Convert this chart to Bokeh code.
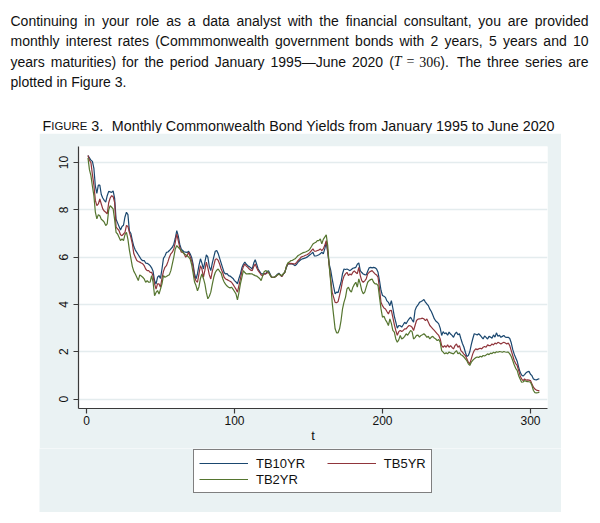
from bokeh.plotting import figure
from bokeh.models import Range1d, FixedTicker, Legend, LegendItem, Spacer
from bokeh.layouts import column, row
from bokeh.core.properties import value
from bokeh.embed import file_html
from bokeh.resources import INLINE

# ---------------- data (monthly yields, Jan 1995 .. Jun 2020, T = 306) ----------------
tb10yr = [
    10.30, 10.20, 10.10, 10.05, 9.75, 9.00, 8.70, 9.05, 9.05, 8.65, 8.50, 8.40,
    8.33, 8.60, 8.78, 8.76, 8.74, 8.80, 8.50, 7.60, 7.45, 7.30, 7.15, 7.30,
    7.35, 7.70, 7.90, 7.80, 7.10, 7.00, 6.70, 6.45, 6.30, 6.20, 6.10, 6.00,
    5.90, 5.85, 5.86, 5.75, 5.74, 5.70, 5.64, 5.55, 5.40, 5.00, 4.87, 5.15,
    5.22, 5.10, 5.50, 5.95, 6.05, 6.20, 6.22, 6.28, 6.35, 6.42, 6.55, 6.80,
    7.12, 6.90, 6.55, 6.35, 6.28, 6.22, 6.21, 6.20, 6.25, 6.14, 6.00, 5.72,
    5.30, 5.08, 5.30, 5.65, 5.93, 5.75, 5.50, 5.80, 6.10, 6.00, 5.60, 5.43,
    5.75, 6.00, 6.25, 6.28, 6.15, 5.95, 5.75, 5.55, 5.35, 5.29, 5.30, 5.22,
    5.20, 5.15, 5.10, 5.01, 4.95, 4.87, 5.10, 5.29, 5.55, 5.70, 5.79, 5.70,
    5.64, 5.60, 5.55, 5.50, 5.75, 5.89, 5.70, 5.50, 5.40, 5.30, 5.29, 5.30,
    5.29, 5.38, 5.43, 5.30, 5.16, 5.15, 5.15, 5.20, 5.28, 5.32, 5.25, 5.18,
    5.28, 5.36, 5.55, 5.70, 5.71, 5.72, 5.71, 5.68, 5.64, 5.70, 5.79, 5.85,
    5.90, 5.93, 5.95, 5.97, 6.00, 6.05, 6.10, 6.15, 6.21, 6.05, 6.05, 6.07,
    6.10, 6.14, 6.21, 6.14, 6.35, 6.63, 6.20, 5.70, 5.45, 5.08, 4.75, 4.45,
    4.52, 4.50, 4.73, 4.94, 5.30, 5.50, 5.48, 5.50, 5.47, 5.43, 5.48, 5.53,
    5.55, 5.57, 5.70, 5.76, 5.43, 5.35, 5.29, 5.26, 5.25, 5.40, 5.55, 5.57,
    5.55, 5.57, 5.55, 5.50, 5.36, 5.00, 4.60, 4.38, 4.35, 4.30, 4.15, 4.09,
    3.95, 4.16, 3.85, 3.50, 3.25, 3.00, 3.11, 3.10, 3.04, 3.14, 3.25, 3.18,
    3.30, 3.39, 3.46, 3.35, 3.25, 3.75, 3.90, 3.98, 4.09, 4.12, 4.16, 4.21,
    4.10, 4.02, 3.95, 3.80, 3.70, 3.55, 3.40, 3.30, 3.25, 3.18, 3.00, 2.69,
    2.85, 2.76, 2.80, 2.70, 2.83, 2.75, 2.69, 2.61, 2.76, 2.83, 2.72, 2.76,
    2.55, 2.35, 2.20, 1.98, 1.80, 1.84, 2.00, 2.30, 2.55, 2.76, 2.74, 2.71,
    2.76, 2.70, 2.62, 2.54, 2.67, 2.61, 2.54, 2.65, 2.62, 2.57, 2.71, 2.62,
    2.80, 2.66, 2.70, 2.61, 2.65, 2.69, 2.62, 2.61, 2.61, 2.56, 2.38, 2.10,
    1.90, 1.75, 1.60, 1.35, 1.14, 1.02, 0.97, 1.03, 1.11, 1.15, 1.17, 1.05,
    0.99, 0.85, 0.82, 0.81, 0.84, 0.86,
]

tb5yr = [
    10.30, 10.10, 10.00, 9.50, 9.05, 8.40, 8.18, 8.25, 8.46, 8.25, 8.04, 7.95,
    7.90, 7.83, 8.30, 8.50, 8.60, 8.56, 8.32, 7.27, 7.20, 7.12, 6.95, 6.91,
    6.98, 7.05, 7.34, 7.30, 7.05, 6.84, 6.56, 6.14, 6.00, 5.86, 5.82, 5.79,
    5.75, 5.72, 5.64, 5.50, 5.43, 5.43, 5.36, 5.36, 5.20, 4.87, 4.65, 4.87,
    4.87, 4.73, 5.10, 5.40, 5.57, 5.64, 5.80, 6.00, 6.14, 6.21, 6.35, 6.63,
    6.98, 6.70, 6.42, 6.21, 6.21, 6.14, 6.00, 6.07, 6.21, 6.03, 5.86, 5.60,
    5.15, 5.00, 4.94, 5.29, 5.64, 5.50, 5.15, 5.45, 5.79, 5.55, 5.25, 5.08,
    5.40, 5.64, 5.90, 5.93, 5.86, 5.70, 5.50, 5.35, 5.15, 5.08, 5.05, 5.01,
    4.98, 4.94, 4.85, 4.75, 4.65, 4.52, 4.80, 5.08, 5.40, 5.60, 5.71, 5.62,
    5.57, 5.50, 5.45, 5.43, 5.60, 5.71, 5.55, 5.43, 5.35, 5.25, 5.22, 5.29,
    5.29, 5.33, 5.36, 5.25, 5.15, 5.15, 5.15, 5.18, 5.25, 5.29, 5.24, 5.18,
    5.28, 5.36, 5.58, 5.72, 5.73, 5.74, 5.73, 5.72, 5.71, 5.78, 5.86, 5.92,
    6.00, 6.03, 6.05, 6.08, 6.10, 6.14, 6.20, 6.28, 6.35, 6.25, 6.25, 6.28,
    6.30, 6.35, 6.28, 6.35, 6.50, 6.70, 6.28, 5.64, 5.08, 4.52, 4.30, 4.09,
    4.07, 4.12, 4.38, 4.66, 5.00, 5.20, 5.29, 5.36, 5.22, 5.29, 5.25, 5.36,
    5.42, 5.35, 5.30, 5.57, 5.22, 5.01, 4.94, 5.00, 5.08, 5.29, 5.36, 5.40,
    5.43, 5.36, 5.29, 5.25, 5.15, 4.66, 4.09, 3.95, 3.85, 3.81, 3.70, 3.60,
    3.74, 3.75, 3.45, 3.15, 2.90, 2.70, 2.85, 2.90, 2.86, 2.90, 2.97, 2.97,
    3.05, 3.11, 3.09, 3.04, 2.90, 3.11, 3.32, 3.38, 3.39, 3.40, 3.42, 3.39,
    3.32, 3.39, 3.25, 3.11, 3.04, 2.97, 2.90, 2.83, 2.76, 2.69, 2.54, 2.26,
    2.19, 2.26, 2.19, 2.29, 2.19, 2.26, 2.18, 2.12, 2.26, 2.33, 2.19, 2.26,
    2.05, 1.98, 1.90, 1.84, 1.70, 1.56, 1.49, 1.70, 1.91, 2.05, 2.12, 2.09,
    2.12, 2.15, 2.12, 2.19, 2.22, 2.19, 2.29, 2.26, 2.26, 2.33, 2.29, 2.37,
    2.33, 2.40, 2.37, 2.33, 2.37, 2.40, 2.37, 2.33, 2.37, 2.26, 2.05, 1.84,
    1.63, 1.50, 1.42, 1.21, 0.99, 0.85, 0.78, 0.85, 0.80, 0.81, 0.80, 0.78,
    0.64, 0.50, 0.42, 0.38, 0.36, 0.36,
]

tb2yr = [
    10.20, 9.70, 9.45, 9.00, 8.60, 7.90, 7.62, 7.80, 7.75, 7.60, 7.55, 7.48,
    7.34, 7.41, 8.00, 8.18, 8.11, 8.04, 7.60, 7.05, 6.98, 6.84, 6.70, 6.77,
    6.70, 6.95, 7.05, 6.75, 6.30, 5.95, 5.60, 5.40, 5.29, 5.15, 5.01, 5.25,
    5.20, 5.15, 5.08, 4.94, 5.01, 4.94, 4.94, 5.22, 4.94, 4.37, 4.51, 4.59,
    4.44, 4.65, 4.87, 5.22, 5.15, 5.18, 5.22, 5.26, 5.43, 5.72, 6.00, 6.35,
    6.49, 6.42, 6.35, 6.28, 6.21, 6.14, 6.10, 6.07, 6.00, 5.93, 5.70, 5.35,
    4.95, 4.80, 4.58, 4.75, 5.10, 5.29, 5.10, 4.87, 4.50, 4.24, 4.35, 4.52,
    4.85, 5.15, 5.35, 5.45, 5.50, 5.40, 5.32, 5.10, 4.95, 4.85, 4.78, 4.73,
    4.70, 4.73, 4.65, 4.55, 4.45, 4.19, 4.50, 4.87, 5.15, 5.43, 5.35, 5.29,
    5.29, 5.30, 5.29, 5.29, 5.25, 5.22, 5.20, 5.15, 5.10, 5.01, 5.20, 5.38,
    5.43, 5.40, 5.36, 5.25, 5.15, 5.15, 5.15, 5.20, 5.25, 5.29, 5.25, 5.22,
    5.30, 5.36, 5.60, 5.75, 5.79, 5.85, 5.86, 5.90, 5.93, 6.00, 6.07, 6.10,
    6.14, 6.18, 6.20, 6.22, 6.25, 6.28, 6.35, 6.45, 6.56, 6.60, 6.63, 6.70,
    6.70, 6.77, 6.56, 6.75, 6.85, 6.94, 6.49, 5.64, 4.94, 4.09, 3.53, 2.97,
    2.80, 2.80, 2.97, 3.32, 3.81, 4.10, 4.30, 4.66, 4.73, 4.59, 4.52, 4.73,
    4.85, 4.94, 4.73, 5.08, 4.87, 4.59, 4.45, 4.52, 4.73, 4.94, 5.01, 5.05,
    5.08, 4.94, 4.87, 4.87, 4.80, 4.30, 3.81, 3.46, 3.50, 3.35, 3.25, 3.11,
    3.39, 3.20, 2.90, 2.83, 2.54, 2.40, 2.50, 2.69, 2.54, 2.58, 2.65, 2.76,
    2.70, 2.80, 2.90, 2.85, 2.54, 2.60, 2.69, 2.70, 2.62, 2.69, 2.72, 2.76,
    2.70, 2.61, 2.65, 2.54, 2.62, 2.65, 2.58, 2.54, 2.47, 2.52, 2.40, 2.05,
    1.98, 1.91, 1.96, 1.91, 1.99, 1.95, 1.93, 1.91, 1.98, 2.05, 1.92, 1.96,
    1.87, 1.84, 1.78, 1.70, 1.62, 1.49, 1.42, 1.56, 1.64, 1.70, 1.75, 1.78,
    1.76, 1.81, 1.78, 1.84, 1.82, 1.86, 1.91, 1.88, 1.94, 1.92, 1.98, 1.95,
    2.00, 1.98, 2.01, 2.00, 1.98, 2.01, 1.99, 1.98, 1.98, 1.91, 1.80, 1.63,
    1.45, 1.30, 1.21, 0.99, 0.85, 0.71, 0.72, 0.78, 0.75, 0.74, 0.73, 0.71,
    0.57, 0.36, 0.27, 0.26, 0.27, 0.29,
]

t = list(range(1, len(tb10yr) + 1))

series_names = ["TB10YR", "TB5YR", "TB2YR"]
series_colors = ["#1a476f", "#90353b", "#55752f"]
x_ticks = [0, 100, 200, 300]
y_ticks = [0, 2, 4, 6, 8, 10]

GRAPH_BG = "#eaf2f3"
SANS = "Liberation Sans"
SERIF = "Liberation Serif"

# ---------------- text block (paragraph + caption), page pixel coordinates ----------------
ARIAL = {' ': 278, ',': 278, '.': 278, '(': 333, ')': 333, '-': 333, '\u2014': 1000,
         'a': 556, 'b': 556, 'c': 500, 'd': 556, 'e': 556, 'f': 278, 'g': 556, 'h': 556,
         'i': 222, 'j': 222, 'k': 500, 'l': 222, 'm': 833, 'n': 556, 'o': 556, 'p': 556,
         'q': 556, 'r': 333, 's': 500, 't': 278, 'u': 556, 'v': 500, 'w': 722, 'x': 500,
         'y': 500, 'z': 500,
         'A': 667, 'B': 667, 'C': 722, 'D': 722, 'E': 667, 'F': 611, 'G': 778, 'H': 722,
         'I': 278, 'J': 500, 'K': 667, 'L': 556, 'M': 833, 'N': 722, 'O': 778, 'P': 667,
         'Q': 778, 'R': 722, 'S': 667, 'T': 611, 'U': 722, 'V': 667, 'W': 944, 'X': 667,
         'Y': 667, 'Z': 611}
FS = 14.0


def wsans(s, size=FS):
    return sum(ARIAL.get(c, 556) for c in s) / 1000.0 * size


def word(s):
    return [(s, SANS, "normal", FS, wsans(s))]


math_token = [("(", SANS, "normal", FS, wsans("(")),
              ("T", SERIF, "italic", FS, 0.60 * FS),
              (None, None, None, None, 0.30 * FS),
              ("=", SERIF, "normal", FS, 0.62 * FS),
              (None, None, None, None, 0.30 * FS),
              ("306", SERIF, "normal", FS, 1.5 * FS),
              (").", SANS, "normal", FS, wsans(").") + 0.15 * FS)]

lines = [
    ("Continuing in your role as a data analyst with the financial consultant, you are provided", True),
    ("monthly interest rates (Commmonwealth government bonds with 2 years, 5 years and 10", True),
    ("years maturities) for the period January 1995\u2014June 2020 (T = 306). The three series are", True),
    ("plotted in Figure 3.", False),
]
line_y = [20, 40.5, 61, 81.5]
X0, X1 = 10, 588

segs = {}


def put(seg, x, y):
    txt, font, style, size, w = seg
    if txt is None:
        return
    d = segs.setdefault((font, style, size), {"x": [], "y": [], "text": []})
    d["x"].append(x)
    d["y"].append(y)
    d["text"].append(txt)


for (ln, just), yy in zip(lines, line_y):
    toks = []
    for wd in ln.split(" "):
        if wd == "(T":
            toks.append(math_token)
        elif wd in ("=", "306)."):
            continue
        else:
            toks.append(word(wd))
    widths = [sum(s[4] for s in tk) for tk in toks]
    gap = (X1 - X0 - sum(widths)) / (len(toks) - 1) if just else wsans(" ")
    x = X0
    for tk, w in zip(toks, widths):
        xx = x
        for s in tk:
            put(s, xx, yy)
            xx += s[4]
        x += w + gap

# caption (small caps "FIGURE")
CS = 14.3
cap_y = 125
cx = 42
cap_segs = [("F", SANS, "normal", CS, wsans("F", CS)),
            ("IGURE", SANS, "normal", 11.4, wsans("IGURE", 11.4) + wsans(" ", CS)),
            ("3.", SANS, "normal", CS, wsans("3.", CS) + 0.6 * CS),
            ("Monthly Commonwealth Bond Yields from January 1995 to June 2020", SANS, "normal", CS, 0)]
for s in cap_segs:
    put(s, cx, cap_y)
    cx += s[4]

ft = figure(width=600, height=133, x_range=Range1d(0, 600), y_range=Range1d(133, 0),
            x_axis_location=None, y_axis_location=None,
            output_backend="svg", toolbar_location=None, min_border=0,
            outline_line_color=None, background_fill_color="white", border_fill_color="white")
ft.grid.visible = False
for (font, style, size), d in segs.items():
    ft.text(x=d["x"], y=d["y"], text=d["text"], text_font=value(font), text_font_style=style,
            text_font_size=value(f"{size}px"), text_baseline="middle", text_align="left",
            text_color="#111111")

# ---------------- chart (page x 39..561, y 133..448) ----------------
p = figure(width=522, height=315, x_range=Range1d(-5.4, 311.5), y_range=Range1d(-0.40, 10.68),
           output_backend="svg", toolbar_location=None,
           min_border_left=39, min_border_right=14, min_border_top=13, min_border_bottom=40,
           border_fill_color=GRAPH_BG, background_fill_color="white", outline_line_color=None)

for ys, c in zip([tb10yr, tb5yr, tb2yr], series_colors):
    p.line(t, ys, line_color=c, line_width=1.2)

p.xgrid.visible = False
p.ygrid.grid_line_color = "#e4ecee"
p.ygrid.grid_line_width = 1.5
p.xaxis.ticker = FixedTicker(ticks=x_ticks)
p.yaxis.ticker = FixedTicker(ticks=y_ticks)
for ax in (p.xaxis[0], p.yaxis[0]):
    ax.axis_line_color = "#3a3a3a"
    ax.axis_line_width = 1.2
    ax.major_tick_line_color = "#3a3a3a"
    ax.major_tick_line_width = 1.2
    ax.major_tick_out = 5
    ax.major_tick_in = 0
    ax.minor_tick_line_color = None
    ax.major_label_text_font = SANS
    ax.major_label_text_font_size = "12px"
    ax.major_label_text_color = "#111111"
p.yaxis.major_label_orientation = "vertical"
p.yaxis.major_label_standoff = 5
p.xaxis.major_label_standoff = 2
p.xaxis.axis_label = "t"
p.xaxis.axis_label_text_font = SANS
p.xaxis.axis_label_text_font_size = "13px"
p.xaxis.axis_label_text_font_style = "normal"
p.xaxis.axis_label_text_color = "#111111"
p.xaxis.axis_label_standoff = 0

# ---------------- legend strip (page x 39..561, y 448..512) ----------------
# the strip's ranges lie left of the data, so its key renderers (first data point of
# each series) stay out of view and only serve the legend's line samples
fl = figure(width=522, height=64, x_range=Range1d(-2, -1), y_range=Range1d(0, 1),
            x_axis_location=None, y_axis_location=None,
            output_backend="svg", toolbar_location=None, min_border=0,
            outline_line_color=None, background_fill_color=GRAPH_BG, border_fill_color=GRAPH_BG)
fl.grid.visible = False
keys = [fl.line(x=t[:1], y=ys[:1], line_color=c, line_width=1.2)
        for ys, c in zip([tb10yr, tb5yr, tb2yr], series_colors)]
# column-major fill with two columns: TB10YR, TB2YR | TB5YR; the non-breaking spaces widen
# the first column so that the gap between the columns matches the reference
col_pad = "\u00a0" * 6
leg_labels = {0: series_names[0] + col_pad, 1: series_names[1], 2: series_names[2]}
leg_order = [0, 2, 1]
legend = Legend(items=[LegendItem(label=leg_labels[i], renderers=[keys[i]]) for i in leg_order],
                orientation="vertical", ncols=2, location=(154, 19),
                border_line_color="black", border_line_width=1, background_fill_color="white",
                background_fill_alpha=1.0,
                label_text_font=SANS, label_text_font_size="13px", label_text_color="#111111",
                glyph_width=49, glyph_height=16, label_height=16, label_standoff=8,
                spacing=0, padding=5, margin=0)
fl.add_layout(legend, "center")

layout = column(ft,
                row(Spacer(width=39, height=315), p),
                row(Spacer(width=39, height=64), fl))
open("out.html", "w").write(file_html(layout, INLINE))
